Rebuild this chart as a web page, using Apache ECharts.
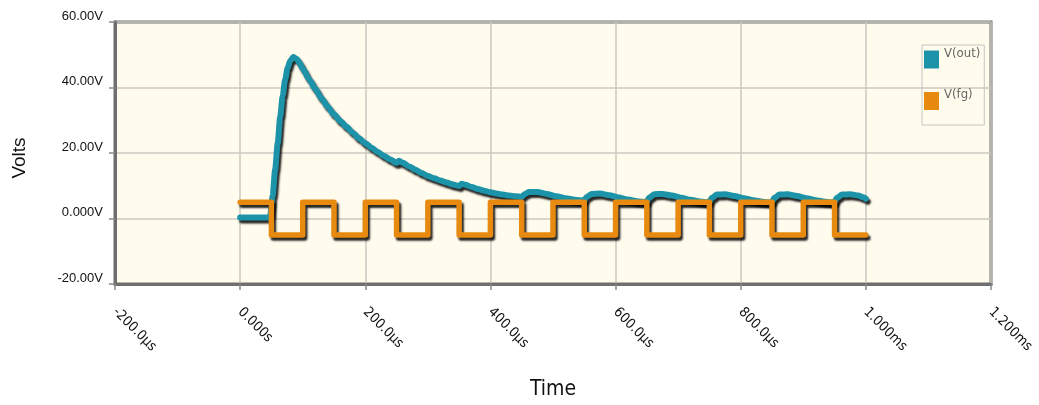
<!DOCTYPE html>
<html>
<head>
<meta charset="utf-8">
<title>Volts vs Time</title>
<script src="https://cdn.jsdelivr.net/npm/echarts@6/dist/echarts.min.js"></script>
<style>
  html, body { margin: 0; padding: 0; background: #ffffff; }
  #chart { width: 1039px; height: 405px; }
</style>
</head>
<body>
<div id="chart"></div>
<script>
// Axis ticks (time in µs, voltage in V) and their printed labels
const timeTicks = [-200, 0, 200, 400, 600, 800, 1000, 1200];
const timeTickLabels = ['-200.0\u00b5s', '0.000s', '200.0\u00b5s', '400.0\u00b5s', '600.0\u00b5s', '800.0\u00b5s', '1.000ms', '1.200ms'];
const voltTicks = [-20, 0, 20, 40, 60];
const voltTickLabels = ['-20.00V', '0.000V', '20.00V', '40.00V', '60.00V'];

// V(out): [time µs, volts]
const vOut = [
  [0, 0.3], [46, 0.3], [48, 0.8], [52, 7], [56, 15], [60, 23], [64, 31], [68, 37.5],
  [72, 42.5], [76, 46], [80, 48.2], [85, 49.3], [90, 48.8], [95, 47.5], [100, 45.8],
  [110, 42.6], [120, 39.6], [130, 36.7], [140, 34.1], [150, 31.8], [160, 29.8],
  [170, 28.0], [180, 26.2], [190, 24.5], [200, 23.0], [210, 21.6], [220, 20.3],
  [230, 19.1], [240, 18.0], [250, 17.0], [254, 17.6], [260, 17.0], [270, 15.9],
  [280, 14.9], [290, 13.9], [300, 13.0], [310, 12.3], [320, 11.6], [330, 11.0],
  [340, 10.4], [350, 9.9], [354, 10.6], [360, 10.3], [370, 9.6], [380, 9.0],
  [390, 8.5], [400, 8.0], [410, 7.6], [420, 7.3], [430, 7.0], [440, 6.8], [450, 6.6],
  [455, 7.5], [462, 8.1], [475, 8.1], [490, 7.5], [505, 6.8], [520, 6.2], [535, 5.7], [549, 5.4],
  [554, 6.6], [562, 7.5], [575, 7.6], [590, 7.1], [605, 6.4], [620, 5.8], [635, 5.3], [649, 5.0],
  [654, 6.4], [662, 7.4], [675, 7.5], [690, 7.0], [705, 6.3], [720, 5.7], [735, 5.2], [749, 4.9],
  [754, 6.3], [762, 7.3], [775, 7.4], [790, 6.9], [805, 6.2], [820, 5.6], [835, 5.1], [849, 4.8],
  [854, 6.3], [862, 7.3], [875, 7.4], [890, 6.9], [905, 6.2], [920, 5.6], [935, 5.1], [949, 4.8],
  [954, 6.3], [962, 7.3], [975, 7.4], [988, 7.0], [996, 6.5], [1000, 6.0]
];

// V(fg): square drive, level held from each time until the next
const vFg = [
  [0, 5], [50, -5], [100, 5], [150, -5], [200, 5], [250, -5], [300, 5], [350, -5],
  [400, 5], [450, -5], [500, 5], [550, -5], [600, 5], [650, -5], [700, 5], [750, -5],
  [800, 5], [850, -5], [900, 5], [950, -5], [1000, -5]
];

const narrowFont = "'DejaVu Sans Condensed', 'Liberation Sans', sans-serif";
const tickFont = "'Liberation Sans', Arial, sans-serif";
const timeLabelOf = {};
timeTicks.forEach((t, i) => { timeLabelOf[t] = timeTickLabels[i]; });
const voltLabelOf = {};
voltTicks.forEach((v, i) => { voltLabelOf[v] = voltTickLabels[i]; });

const shadow = { shadowColor: 'rgba(0,0,0,0.85)', shadowBlur: 2, shadowOffsetX: 2, shadowOffsetY: 3 };

const chart = echarts.init(document.getElementById('chart'), null, { renderer: 'canvas' });
chart.setOption({
  animation: false,
  backgroundColor: '#ffffff',
  grid: {
    left: 115, top: 22, width: 876, height: 266,
    show: true, backgroundColor: '#fffcee',
    borderColor: '#6f6f6f', borderWidth: 3
  },
  legend: {
    orient: 'vertical',
    left: 922, top: 45,
    width: 55,
    padding: [2, 4, 15, 2],
    itemGap: 20,
    itemWidth: 15, itemHeight: 18,
    icon: 'rect',
    borderColor: '#c4c4c4', borderWidth: 1,
    backgroundColor: 'transparent',
    itemStyle: { shadowBlur: 0, shadowOffsetX: 0, shadowOffsetY: 0, shadowColor: 'transparent' },
    formatter: name => '{t|' + name + '}',
    textStyle: {
      fontFamily: narrowFont, fontSize: 13, color: '#666666',
      rich: { t: { fontFamily: narrowFont, fontSize: 13, color: '#666666', padding: [0, 0, 12, 0] } }
    },
    data: ['V(out)', 'V(fg)']
  },
  xAxis: {
    type: 'value',
    min: -200, max: 1200, interval: 200,
    name: 'Time',
    nameLocation: 'middle',
    nameGap: 95,
    nameTextStyle: { fontFamily: narrowFont, fontSize: 21, color: '#111111' },
    axisLine: { show: true, onZero: false, lineStyle: { color: '#6f6f6f', width: 3 } },
    axisTick: { show: true, length: 6, lineStyle: { color: '#8a8a8a', width: 1.5 } },
    splitLine: { show: true, lineStyle: { color: '#cbc8c0', width: 1.5 } },
    axisLabel: {
      rotate: -45,
      margin: 26,
      fontFamily: narrowFont, fontSize: 14, color: '#111111',
      formatter: v => timeLabelOf[v] ?? ''
    }
  },
  yAxis: {
    type: 'value',
    min: -20, max: 60, interval: 20,
    name: 'Volts',
    nameLocation: 'middle',
    nameGap: 86,
    nameRotate: 90,
    nameTextStyle: { fontFamily: tickFont, fontSize: 19, color: '#111111', padding: [0, 10, 0, 0] },
    axisLine: { show: true, onZero: false, lineStyle: { color: '#6f6f6f', width: 3 } },
    axisTick: { show: true, length: 6, lineStyle: { color: '#8a8a8a', width: 1.5 } },
    splitLine: { show: true, lineStyle: { color: '#cbc8c0', width: 1.5 } },
    axisLabel: {
      margin: 12,
      verticalAlign: 'bottom',
      lineHeight: 12,
      fontFamily: tickFont, fontSize: 13, color: '#111111',
      formatter: v => voltLabelOf[v] ?? ''
    }
  },
  series: [
    {
      name: 'V(out)',
      type: 'line',
      data: vOut,
      showSymbol: false,
      smooth: 0.25,
      smoothMonotone: 'x',
      color: '#1c93a9',
      lineStyle: Object.assign({ color: '#1c93a9', width: 6, cap: 'round', join: 'round' }, shadow)
    },
    {
      name: 'V(fg)',
      type: 'line',
      data: vFg,
      step: 'end',
      showSymbol: false,
      color: '#e88a10',
      lineStyle: Object.assign({ color: '#e88a10', width: 5.5, cap: 'round', join: 'round' }, shadow)
    }
  ]
});
</script>
</body>
</html>
